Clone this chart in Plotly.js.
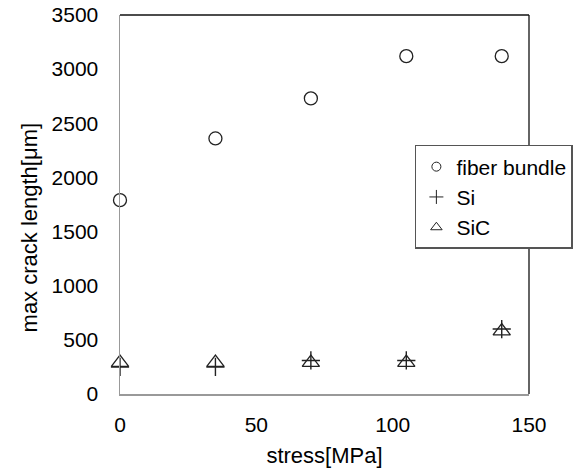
<!DOCTYPE html>
<html>
<head>
<meta charset="utf-8">
<script src="https://cdn.plot.ly/plotly-3.0.1.min.js"></script>
<style>html,body{margin:0;padding:0;background:#fff;}#chart{width:587px;height:470px;}</style>
</head>
<body>
<div id="chart"></div>
<script>
const stress = [0, 35, 70, 105, 140];
const fiberBundle = [1790, 2360, 2730, 3120, 3120];
const si = [250, 250, 310, 310, 600];
const sic = [290, 290, 290, 290, 580];
const seriesNames = ['fiber bundle', 'Si', 'SiC'];
const xTicks = [0, 50, 100, 150];
const yTicks = [0, 500, 1000, 1500, 2000, 2500, 3000, 3500];

const ink = '#222';
const fontFam = '"Liberation Sans", Arial, sans-serif';

function dataTrace(y, symbol, size, lw) {
  return {x: stress, y: y, type: 'scatter', mode: 'markers', showlegend: false, cliponaxis: false,
    marker: {symbol: symbol, size: size, color: ink, line: {color: ink, width: lw}}};
}
function legendTrace(name, symbol, size, lw) {
  return {x: [null], y: [null], type: 'scatter', mode: 'markers', name: name,
    marker: {symbol: symbol, size: size, color: ink, line: {color: ink, width: lw}}};
}

const traces = [
  dataTrace(fiberBundle, 'circle-open', 13, 1.3),
  dataTrace(si, 'cross-thin-open', 13, 1.4),
  dataTrace(sic, 'triangle-up-open', 15, 1.3),
  legendTrace(seriesNames[0], 'circle-open', 9, 1),
  legendTrace(seriesNames[1], 'cross-thin-open', 10, 1),
  legendTrace(seriesNames[2], 'triangle-up-open', 10, 1)
];

const layout = {
  width: 587, height: 470,
  margin: {l: 120, r: 58, t: 15, b: 76},
  paper_bgcolor: '#fff', plot_bgcolor: '#fff',
  font: {family: fontFam, size: 21, color: '#000'},
  showlegend: true,
  legend: {x: 0.721, y: 0.657, xanchor: 'left', yanchor: 'top',
    bordercolor: '#555', borderwidth: 1.5, bgcolor: '#fff',
    font: {family: fontFam, size: 21, color: '#000'}, tracegroupgap: 0},
  xaxis: {range: [0, 150], tickvals: xTicks, ticktext: xTicks.map(String),
    showgrid: false, zeroline: false, showline: true, linecolor: '#999', linewidth: 1.5,
    ticks: '', ticklabelstandoff: 11, fixedrange: true,
    title: {text: 'stress[MPa]', font: {family: fontFam, size: 22, color: '#000'}, standoff: 13}},
  yaxis: {range: [0, 3500], tickvals: yTicks, ticktext: yTicks.map(String),
    showgrid: false, zeroline: false, showline: true, linecolor: '#999', linewidth: 1.5,
    ticks: '', ticklabelstandoff: 16, fixedrange: true},
  annotations: [{text: 'max crack length[μm]', xref: 'paper', yref: 'paper',
    x: -0.222, y: 0.44, xanchor: 'center', yanchor: 'middle', textangle: -90, showarrow: false,
    font: {family: fontFam, size: 22, color: '#000'}}],
  shapes: [
    {type: 'line', xref: 'paper', yref: 'paper', x0: 0, x1: 1, y0: 1, y1: 1, line: {color: '#111', width: 1.3}},
    {type: 'line', xref: 'paper', yref: 'paper', x0: 1, x1: 1, y0: 0, y1: 1, line: {color: '#111', width: 1.3}}
  ]
};

Plotly.newPlot('chart', traces, layout, {displayModeBar: false, staticPlot: true});
</script>
</body>
</html>
